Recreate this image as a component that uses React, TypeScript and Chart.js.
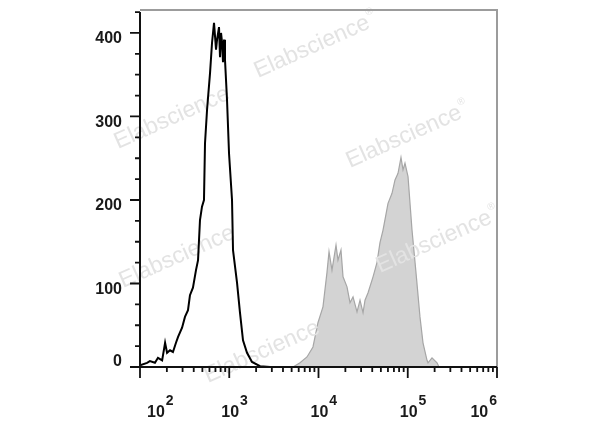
import { useEffect, useRef } from "react";
import { Chart, registerables } from "chart.js";

Chart.register(...registerables);

// Unstained control (black outline histogram)
const blackX = [100, 120, 129, 147, 159, 177, 191, 201, 217, 234, 253, 267, 296, 319, 345, 363, 392, 424, 447, 470, 495, 521, 535, 564, 609, 641, 675, 711, 730, 768, 788, 809, 830, 851, 874, 896, 944, 994, 1074, 1102, 1222, 1319, 1426, 1581, 1799, 2212, 2864, 1000000];
const blackY = [2, 5, 7, 5, 11, 8, 29, 17, 20, 18, 29, 36, 47, 60, 68, 86, 95, 116, 128, 176, 192, 200, 268, 308, 352, 388, 412, 380, 392, 407, 371, 400, 389, 365, 392, 368, 320, 256, 200, 140, 101, 65, 32, 17, 6, 1, 0, 0];

// Stained sample (gray filled histogram)
const grayX = [100, 5180, 6210, 7430, 8670, 9860, 11220, 12440, 13120, 14160, 15710, 16530, 17860, 18830, 20860, 22540, 24370, 27010, 29180, 31550, 33200, 35910, 40830, 45190, 48860, 52830, 60100, 66650, 71970, 77800, 83980, 88510, 93110, 100700, 111600, 123700, 137100, 148200, 164400, 168700, 187000, 212800, 224000, 1000000];
const grayY = [0, 0, 5, 12, 24, 53, 72, 113, 138, 116, 146, 128, 140, 108, 96, 77, 84, 66, 80, 65, 80, 89, 108, 125, 149, 164, 196, 208, 224, 232, 251, 236, 244, 228, 164, 113, 60, 29, 8, 5, 11, 5, 0, 0];

const yMajorTicks = [0, 100, 200, 300, 400];
const yTickStep = 25;
const yTop = 425;
const xDecades = [2, 3, 4, 5, 6];
const watermarkText = "Elabscience";

// watermark centres [x, y, showRegisteredMark]
const watermarkSpots: [number, number, boolean][] = [
  [312, 47, true],
  [172, 118, false],
  [404, 137, true],
  [177, 257, false],
  [434, 242, true],
  [262, 352, false],
];

const FONT = "'Liberation Sans', Arial, Helvetica, sans-serif";

function drawWatermarks(ctx: CanvasRenderingContext2D) {
  ctx.save();
  ctx.fillStyle = "#e3e3e3";
  for (const [cx, cy, reg] of watermarkSpots) {
    ctx.save();
    ctx.translate(cx, cy);
    ctx.rotate((-24 * Math.PI) / 180);
    ctx.font = `23px ${FONT}`;
    ctx.textAlign = "center";
    ctx.textBaseline = "middle";
    ctx.fillText(watermarkText, 0, 0);
    const w = ctx.measureText(watermarkText).width;
    if (reg) {
      ctx.font = `10px ${FONT}`;
      ctx.textAlign = "left";
      ctx.fillText("®", w / 2 + 1, -9);
    }
    ctx.restore();
  }
  ctx.restore();
}

export default function App() {
  const ref = useRef<HTMLCanvasElement>(null);

  useEffect(() => {
    const canvas = ref.current;
    if (!canvas) return;

    const axesPlugin = {
      id: "flowAxes",
      afterDatasetDraw(chart: any, args: any) {
        if (args.index === 1) drawWatermarks(chart.ctx);
      },
      afterDraw(chart: any) {
        const ctx: CanvasRenderingContext2D = chart.ctx;
        const a = chart.chartArea;
        const xs = chart.scales.x;
        const ys = chart.scales.y;
        ctx.save();
        // gray frame (top and right)
        ctx.strokeStyle = "#9c9c9c";
        ctx.lineWidth = 2;
        ctx.beginPath();
        ctx.moveTo(a.left, a.top);
        ctx.lineTo(a.right, a.top);
        ctx.lineTo(a.right, a.bottom);
        ctx.stroke();

        // black axes
        ctx.strokeStyle = "#111";
        ctx.lineWidth = 2;
        ctx.beginPath();
        ctx.moveTo(a.left, ys.getPixelForValue(yTop));
        ctx.lineTo(a.left, a.bottom);
        ctx.lineTo(a.right, a.bottom);
        ctx.stroke();

        // y ticks
        ctx.lineWidth = 1.8;
        ctx.beginPath();
        for (let v = 0; v <= yTop; v += yTickStep) {
          const py = ys.getPixelForValue(v);
          const len = yMajorTicks.includes(v) ? 10 : 5;
          ctx.moveTo(a.left - len, py);
          ctx.lineTo(a.left, py);
        }
        // x ticks
        for (const d of xDecades) {
          const px = xs.getPixelForValue(Math.pow(10, d));
          ctx.moveTo(px, a.bottom);
          ctx.lineTo(px, a.bottom + 11);
          if (d < 6) {
            for (let k = 2; k <= 9; k++) {
              const mx = xs.getPixelForValue(k * Math.pow(10, d));
              ctx.moveTo(mx, a.bottom);
              ctx.lineTo(mx, a.bottom + 5);
            }
          }
        }
        ctx.stroke();

        // y labels
        ctx.fillStyle = "#1a1a1a";
        ctx.font = `bold 16px ${FONT}`;
        ctx.textAlign = "right";
        ctx.textBaseline = "middle";
        for (const v of yMajorTicks) {
          const py = ys.getPixelForValue(v);
          ctx.fillText(String(v), 122, v === 0 ? py - 5 : py + 6);
        }

        // x labels 10^n
        ctx.textAlign = "left";
        ctx.textBaseline = "alphabetic";
        xDecades.forEach((d, i) => {
          const px = xs.getPixelForValue(Math.pow(10, d));
          ctx.font = `bold 16px ${FONT}`;
          const wBase = ctx.measureText("10").width;
          ctx.font = `bold 14px ${FONT}`;
          const wSup = ctx.measureText(String(d)).width;
          const total = wBase + 1 + wSup;
          let left = px - 8;
          if (i === 0) left = px + 7;
          if (i === xDecades.length - 1) left = px - total;
          ctx.font = `bold 16px ${FONT}`;
          ctx.fillText("10", left, 417);
          ctx.font = `bold 14px ${FONT}`;
          ctx.fillText(String(d), left + wBase + 1, 405);
        });
        ctx.restore();
      },
    };

    const chart = new Chart(canvas, {
      type: "line",
      data: {
        datasets: [
          {
            data: blackX.map((x, i) => ({ x, y: blackY[i] })),
            borderColor: "#000",
            borderWidth: 2,
            fill: false,
            pointRadius: 0,
            tension: 0,
          },
          {
            data: grayX.map((x, i) => ({ x, y: grayY[i] })),
            borderColor: "#a6a6a6",
            backgroundColor: "#d3d3d3",
            borderWidth: 1.2,
            fill: "origin",
            pointRadius: 0,
            tension: 0,
          },
        ],
      },
      options: {
        animation: false,
        responsive: false,
        events: [],
        layout: { padding: { left: 140, right: 103, top: 10, bottom: 60 } },
        scales: {
          x: { type: "logarithmic", min: 100, max: 1000000, display: false },
          y: { type: "linear", min: 0, max: 427.5, display: false },
        },
        plugins: { legend: { display: false }, tooltip: { enabled: false } },
      },
      plugins: [axesPlugin],
    } as any);

    return () => chart.destroy();
  }, []);

  return (
    <div style={{ position: "fixed", left: 0, top: 0, width: 600, height: 427, background: "#fff" }}>
      <canvas ref={ref} width={600} height={427} style={{ display: "block", width: 600, height: 427 }} />
    </div>
  );
}
